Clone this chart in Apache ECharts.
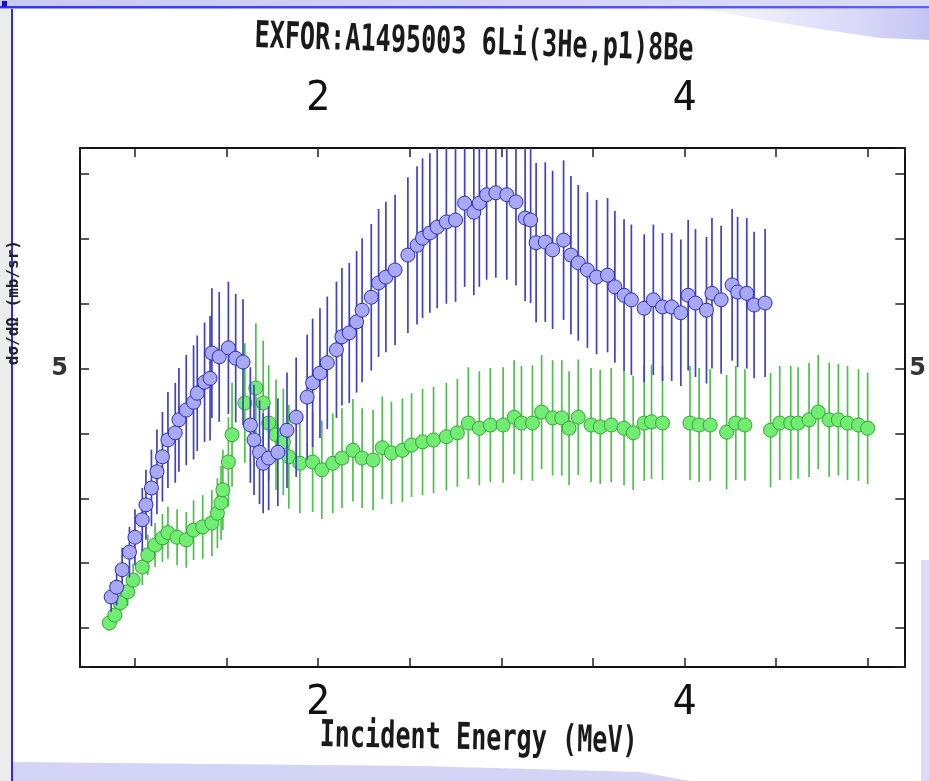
<!DOCTYPE html>
<html><head><meta charset="utf-8">
<script src="https://cdn.jsdelivr.net/npm/echarts@6/dist/echarts.min.js"></script>
<style>html,body{margin:0;padding:0;background:#fff;}#c{width:929px;height:781px;}</style>
</head><body><div id="c"></div>
<script>
// ---- data ----
const titleText = 'EXFOR:A1495003 6Li(3He,p1)8Be';
const xAxisName = 'Incident Energy (MeV)';
const yAxisName = 'dσ/dΩ (mb/sr)';
const xTickLabels = [2, 4];
const yTickLabels = [5];

const blueE = [0.87,0.90,0.93,0.97,1.00,1.04,1.06,1.09,1.12,1.15,1.18,1.22,1.24,1.28,1.32,1.34,1.38,1.41,1.42,1.46,1.51,1.55,1.59,1.63,1.65,1.68,1.70,1.73,1.78,1.83,1.88,1.94,1.97,2.01,2.05,2.10,2.13,2.17,2.21,2.24,2.29,2.33,2.37,2.42,2.49,2.54,2.57,2.61,2.65,2.70,2.75,2.80,2.85,2.88,2.92,2.97,3.03,3.08,3.13,3.16,3.19,3.24,3.28,3.34,3.38,3.42,3.47,3.52,3.58,3.62,3.67,3.71,3.78,3.83,3.88,3.93,3.98,4.02,4.06,4.12,4.15,4.20,4.26,4.29,4.34,4.38,4.44];
const blueV = [1.48,1.63,1.90,2.17,2.40,2.67,2.90,3.16,3.41,3.64,3.90,4.01,4.21,4.36,4.48,4.62,4.79,4.85,5.24,5.18,5.32,5.16,5.10,4.13,3.90,3.71,3.54,3.62,3.71,4.05,4.25,4.56,4.78,4.93,5.09,5.29,5.49,5.55,5.72,5.90,6.10,6.32,6.41,6.52,6.75,6.90,7.01,7.09,7.18,7.26,7.29,7.55,7.41,7.55,7.68,7.71,7.68,7.57,7.32,7.29,6.94,6.95,6.83,6.98,6.75,6.63,6.52,6.41,6.44,6.26,6.13,6.06,5.93,6.06,5.95,5.95,5.86,6.13,6.01,5.90,6.16,6.06,6.29,6.18,6.16,5.98,6.01];
const blueErr = [0.23,0.28,0.34,0.39,0.43, 0.49,0.54,0.59,0.65,0.69, 0.74,0.77,0.80,0.85,0.88,0.89,0.92,0.96, 1.00,1.00,1.02,0.99,0.97, 0.89,0.85,0.80,0.77,0.80,0.83, 0.89,0.92,0.96,0.99,1.00,1.02,1.05,1.06,1.08,1.09,1.11,1.13,1.14,1.16,1.16, 1.20,1.22,1.23,1.23,1.25,1.26,1.26,1.29,1.28,1.29,1.31,1.31,1.31,1.29,1.28,1.28, 1.23,1.23,1.22,1.23,1.22,1.20,1.20,1.19,1.19,1.17,1.17,1.16,1.14,1.16,1.14,1.14,1.13,1.16,1.14,1.13,1.16,1.14,1.17,1.16,1.16,1.13,1.14];

const greenE = [0.86,0.89,0.92,0.96,0.99,1.04,1.07,1.11,1.15,1.18,1.23,1.28,1.32,1.37,1.42,1.45,1.47,1.48,1.51,1.53,1.60,1.66,1.70,1.73,1.77,1.81,1.84,1.90,1.97,2.02,2.08,2.13,2.19,2.24,2.30,2.35,2.40,2.46,2.51,2.57,2.63,2.70,2.76,2.82,2.88,2.94,3.01,3.07,3.11,3.17,3.22,3.28,3.33,3.37,3.42,3.49,3.54,3.60,3.67,3.72,3.78,3.82,3.88,4.03,4.08,4.14,4.23,4.28,4.33,4.47,4.52,4.58,4.62,4.68,4.73,4.79,4.84,4.89,4.95,5.00];
const greenV = [1.08,1.20,1.39,1.56,1.74,1.94,2.13,2.28,2.39,2.47,2.40,2.36,2.51,2.56,2.62,2.77,2.93,3.13,3.56,3.98,4.47,4.70,4.47,4.16,3.98,3.87,3.64,3.54,3.56,3.44,3.54,3.62,3.74,3.62,3.59,3.78,3.70,3.74,3.82,3.87,3.90,3.95,4.01,4.16,4.08,4.13,4.13,4.25,4.16,4.16,4.33,4.24,4.24,4.08,4.25,4.13,4.10,4.13,4.08,4.01,4.16,4.18,4.16,4.16,4.13,4.13,4.02,4.16,4.13,4.05,4.16,4.16,4.16,4.21,4.33,4.21,4.21,4.16,4.13,4.08];
const greenErr = [0.12,0.15,0.18,0.22,0.25, 0.28,0.31,0.34,0.37,0.40, 0.43,0.43,0.46,0.49,0.51,0.54,0.57, 0.62,0.69,0.80, 0.92,1.00,0.96, 0.89,0.85,0.82,0.80, 0.77,0.77,0.76,0.77,0.77,0.79,0.77,0.77,0.79,0.79,0.80,0.80,0.82,0.82,0.83,0.83, 0.86,0.88,0.88,0.89,0.88,0.88,0.89,0.88,0.89,0.89,0.88,0.89,0.88,0.88,0.88,0.88,0.88,0.89,0.88,0.88,0.88,0.88,0.86,0.88,0.88,0.86,0.88,0.88,0.88,0.86,0.88,0.88,0.88,0.86,0.88,0.86,0.86];

// ---- build ----
const blueData = blueE.map((e, i) => [e, blueV[i], blueErr[i]]);
const greenData = greenE.map((e, i) => [e, greenV[i], greenErr[i]]);

function errItem(color) {
  return function (params, api) {
    const x = api.value(0), y = api.value(1), e = api.value(2);
    const p1 = api.coord([x, y + e]), p2 = api.coord([x, y - e]);
    return { type: 'line', shape: { x1: p1[0], y1: p1[1], x2: p2[0], y2: p2[1] },
             style: { stroke: color, lineWidth: 1.7 } };
  };
}

const mono = 'DejaVu Sans Mono';
const condFont = 'bold 37px "DejaVu Sans Mono"';
const xFmt = v => (xTickLabels.some(t => Math.abs(t - v) < 1e-6) ? String(Math.round(v)) : '');
const yFmt = v => (yTickLabels.some(t => Math.abs(t - v) < 1e-6) ? String(Math.round(v)) : '');
const axisLine = { show: true, lineStyle: { color: '#111', width: 2 } };
const axisTick = { show: true, inside: true, length: 9, lineStyle: { color: '#222', width: 1.5 } };

const chart = echarts.init(document.getElementById('c'), null, { renderer: 'canvas' });
chart.setOption({
  animation: false,
  backgroundColor: '#ffffff',
  graphic: [
    { type: 'rect', z: -10, shape: { x: 0, y: 0, width: 929, height: 7 },
      style: { fill: new echarts.graphic.LinearGradient(0, 0, 1, 0, [{ offset: 0, color: '#c9c9f3' }, { offset: 1, color: '#dcdcf8' }]) } },
    { type: 'rect', z: -9, shape: { x: 0, y: 6, width: 929, height: 2.5 },
      style: { fill: new echarts.graphic.LinearGradient(0, 0, 1, 0, [{ offset: 0, color: '#3434f0' }, { offset: 1, color: '#6060f0' }]) } },
    { type: 'rect', z: -9, shape: { x: 2, y: 1, width: 5, height: 6 }, style: { fill: '#1010d0' } },
    { type: 'rect', z: -10, shape: { x: 0, y: 9, width: 12, height: 772 }, style: { fill: '#ececec' } },
    { type: 'rect', z: -9, shape: { x: 11, y: 9, width: 2, height: 772 }, style: { fill: '#2a2af5' } },
    { type: 'polygon', z: -10, shape: { points: [[700, 9], [929, 9], [929, 40], [880, 38], [800, 26]] },
      style: { fill: new echarts.graphic.LinearGradient(0, 0, 1, 0, [{ offset: 0, color: 'rgba(225,225,250,0.3)' }, { offset: 1, color: 'rgba(196,196,244,1)' }]) } },
    { type: 'polygon', z: -10, shape: { points: [[13, 762], [420, 766], [640, 772], [690, 781], [13, 781]] },
      style: { fill: '#d4d4f6' } },
    { type: 'rect', z: -10, shape: { x: 921, y: 560, width: 8, height: 221 }, style: { fill: '#dcdcf8' } },
    { type: 'text', x: 255, y: 19, scaleX: 0.68, rotation: -0.03,
      style: { text: titleText, font: condFont, fill: '#1a1a1a' } },
    { type: 'text', x: 320, y: 718, scaleX: 0.68, rotation: -0.02,
      style: { text: xAxisName, font: condFont, fill: '#1a1a1a' } },
    { type: 'text', left: 6, top: 240, rotation: Math.PI / 2,
      style: { text: yAxisName, font: 'bold 16px "DejaVu Sans Mono"', fill: '#222' } }
  ],
  grid: { left: 80, right: 23, top: 148, bottom: 114, containLabel: false },
  xAxis: [
    { type: 'value', position: 'bottom', min: 0.7, max: 5.2, splitNumber: 9,
      axisLine, axisTick, splitLine: { show: false },
      axisLabel: { formatter: xFmt, fontFamily: mono, fontSize: 40, color: '#111', margin: 17 } },
    { type: 'value', position: 'top', min: 0.7, max: 5.2, splitNumber: 9,
      axisLine, axisTick, splitLine: { show: false },
      axisLabel: { formatter: xFmt, fontFamily: mono, fontSize: 40, color: '#111', margin: 28 } }
  ],
  yAxis: [
    { type: 'value', position: 'left', min: 0.4, max: 8.4, splitNumber: 8,
      axisLine, axisTick, splitLine: { show: false },
      axisLabel: { formatter: yFmt, fontFamily: 'DejaVu Sans', fontSize: 24, fontWeight: 'bold', color: '#333', margin: 12 } },
    { type: 'value', position: 'right', min: 0.4, max: 8.4, splitNumber: 8,
      axisLine, axisTick, splitLine: { show: false },
      axisLabel: { formatter: yFmt, fontFamily: 'DejaVu Sans', fontSize: 24, fontWeight: 'bold', color: '#333', margin: 5 } }
  ],
  series: [
    { type: 'custom', name: 'green err', renderItem: errItem('#4cc24c'), data: greenData,
      encode: { x: 0, y: 1 }, clip: true, z: 2 },
    { type: 'scatter', name: 'green', data: greenData, symbol: 'circle', symbolSize: 14,
      itemStyle: { color: '#72ec72', borderColor: '#2fa82f', borderWidth: 1, opacity: 1 }, z: 3 },
    { type: 'custom', name: 'blue err', renderItem: errItem('#4040c8'), data: blueData,
      encode: { x: 0, y: 1 }, clip: true, z: 4 },
    { type: 'scatter', name: 'blue', data: blueData, symbol: 'circle', symbolSize: 14,
      itemStyle: { color: '#a8a8f4', borderColor: '#2c2cb8', borderWidth: 1, opacity: 1 }, z: 5 }
  ]
});
</script>
</body></html>
